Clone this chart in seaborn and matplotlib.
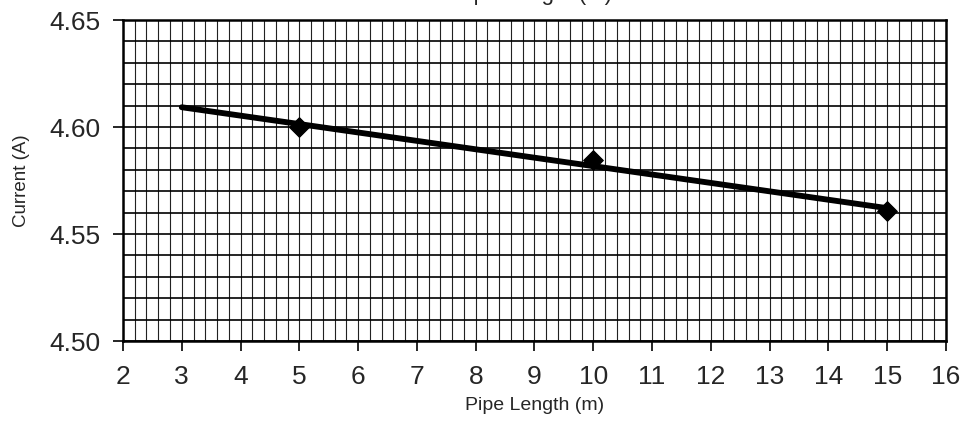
import numpy as np
import pandas as pd
import matplotlib
matplotlib.use("Agg")
import matplotlib.pyplot as plt
import seaborn as sns
from matplotlib.ticker import MultipleLocator, FormatStrFormatter

# measured points
pipe_length = [5, 10, 15]
current = [4.600, 4.5845, 4.5607]
trend_start = 3

title = "Current vs. Pipe Length (m)"
xlabel = "Pipe Length (m)"
ylabel = "Current (A)"

sns.set_style("ticks")
plt.rcParams['font.family'] = ['Liberation Sans', 'DejaVu Sans']

fig = plt.figure(figsize=(9.66, 4.26), dpi=100)
ax = fig.add_axes([0.1273, 0.1995, 0.852, 0.7535])

# linear trend line, extended back to x=3
slope, intercept = np.polyfit(pipe_length, current, 1)
trend = pd.DataFrame({"x": [trend_start, max(pipe_length)]})
trend["y"] = slope * trend["x"] + intercept
sns.lineplot(data=trend, x="x", y="y", color="black", linewidth=4.2, ax=ax, zorder=4)

pts = pd.DataFrame({"x": pipe_length, "y": current})
sns.scatterplot(data=pts, x="x", y="y", marker="D", s=100, color="black",
                edgecolor="black", ax=ax, zorder=5)

ax.set_xlim(2, 16)
ax.set_ylim(4.50, 4.65)
ax.xaxis.set_major_locator(MultipleLocator(1))
ax.xaxis.set_minor_locator(MultipleLocator(0.2))
ax.yaxis.set_major_locator(MultipleLocator(0.05))
ax.yaxis.set_minor_locator(MultipleLocator(0.01))
ax.yaxis.set_major_formatter(FormatStrFormatter('%.2f'))

ax.grid(which="both", axis="x", color="#222222", linewidth=0.8)
ax.grid(which="both", axis="y", color="black", linewidth=1.2)
ax.set_axisbelow(True)

ax.tick_params(axis="y", which="major", length=7, width=1.2, labelsize=19, pad=9, color="black")
ax.tick_params(axis="x", which="major", length=7, width=1.2, labelsize=19, pad=10, color="black")
ax.tick_params(which="minor", length=0)

for s in ax.spines.values():
    s.set_color("black")
    s.set_linewidth(1.8)

ax.set_xlabel(xlabel, fontsize=14, labelpad=6)
ax.set_ylabel(ylabel, fontsize=13.5, labelpad=14)

# title mostly cropped by the top edge, as in the scan
fig.text(0.6335, 1.0, title, ha="right", va="baseline", fontsize=16)

fig.savefig("out.png", dpi=100)
